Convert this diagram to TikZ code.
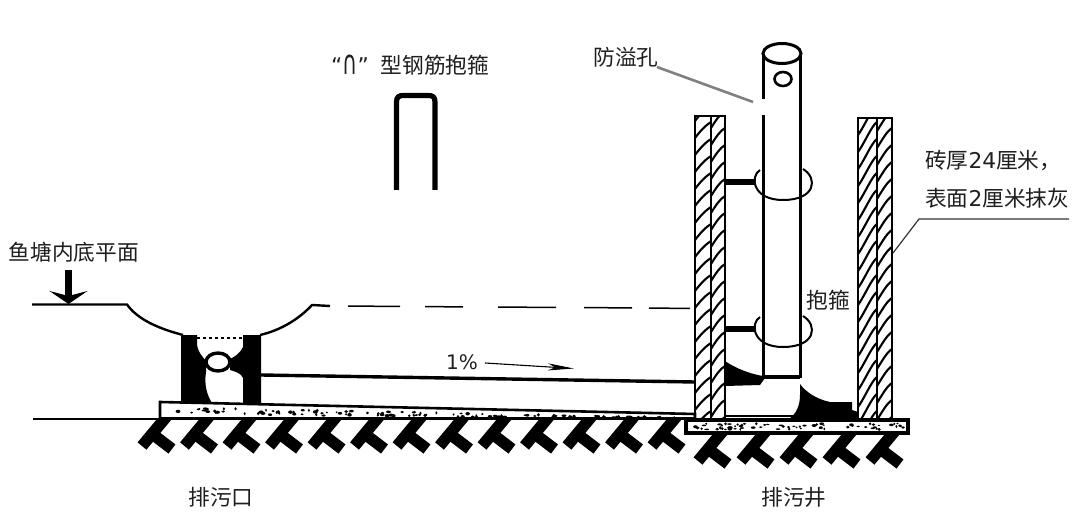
\documentclass[tikz,border=0pt]{standalone}
\usepackage{fontspec}
\usepackage{graphicx}
\setmainfont{Noto Sans CJK SC}
\newfontfamily\latinf{DejaVu Sans}
\usetikzlibrary{arrows.meta}
\tikzset{
  lbl/.style={inner sep=0pt,font=\fontsize{21.7}{24}\selectfont,text=black!88},
  heavy/.style={line width=3.4pt,black},
  thin leader/.style={line width=1.2pt,black!80},
  hatch/.style={line width=2.1pt,black},
  foot/.style={line width=11.5pt,black},
}
\newcommand{\footglyph}[2]{%
  \draw[foot] (#1-17,#2+14) -- (#1+8,#2-16);
  \draw[foot] (#1-8,#2+1) -- (#1+13,#2+17);
}
\begin{document}
\begin{tikzpicture}[x=1pt,y=-1pt]
\useasboundingbox (0,0) rectangle (1080,532);
\fill[white] (0,0) rectangle (1080,532);
% footing glyphs
\begin{scope}
  \clip (0,419) rectangle (1080,532);
  \foreach \c in {159,201.5,244,286.5,329,371.5,414,456.5,499,541.5,584,626.5,669}{\footglyph{\c}{432}}
  \foreach \c in {715,758,801,844,887}{\footglyph{\c}{447}}
\end{scope}
% ground and base slabs
\draw[line width=1.8pt] (33,419) -- (162,419);
\pgfmathsetseed{4242}
\draw[line width=2.6pt,fill=white] (160,418.5) -- (160,402) -- (695,414) -- (695,418.5) -- cycle;
\draw[line width=3.4pt,fill=white] (686,420) rectangle (908,433);
\foreach \i in {1,...,130}{
  \pgfmathsetmacro{\px}{175+500*rnd}
  \pgfmathsetmacro{\py}{407.5+(\px-175)*0.0195+7*rnd*(1-(\px-175)/620)}
  \pgfmathsetmacro{\pw}{0.9+0.9*rnd}
  \pgfmathsetmacro{\pl}{0.9+1.7*rnd}
  \fill (\px,\py) ellipse (\pl pt and \pw pt);
}
\foreach \i in {1,...,70}{
  \pgfmathsetmacro{\px}{692+212*rnd}
  \pgfmathsetmacro{\py}{423.5+6*rnd}
  \pgfmathsetmacro{\pw}{0.7+0.9*rnd}
  \pgfmathsetmacro{\pl}{0.9+1.6*rnd}
  \fill (\px,\py) ellipse (\pl pt and \pw pt);
}
% pond bed
\draw[line width=2.4pt] (32,304.5) -- (127,304.5) .. controls (138,320) and (160,329) .. (183,335);
\draw[line width=2.4pt] (260,335) .. controls (282,330) and (300,318) .. (312,305) -- (330,306);
\draw[line width=1.5pt] (348,306) -- (400,306.5) (425,306.5) -- (463,307) (498,307) -- (556,307.5) (584,307.5) -- (632,308) (649,308) -- (690,308.5);
% piers at the outlet
\fill (181,335) -- (197,335) -- (197,345) .. controls (198,352) and (202,356) .. (206,361) -- (206,372) .. controls (204,385) and (207,395) .. (212,403) -- (181,403) -- cycle;
\fill (261,335) -- (243,335) -- (243,347) .. controls (240,353) and (236,356) .. (230,359) -- (230,370) .. controls (236,372) and (241,373) .. (243,378) -- (243,403) -- (261,403) -- cycle;
\draw[line width=2.2pt,dash pattern=on 3pt off 3pt] (197,338) -- (243,338);
\draw[line width=3.4pt,fill=white] (218,362) ellipse (12 and 9);
% sloped pipe
\coordinate (pipeA) at (261,375);
\coordinate (pipeB) at (695,382);
\draw[heavy] (pipeA) -- (pipeB);
\node[lbl,font=\latinf\fontsize{20}{22}\selectfont,anchor=west] (slope) at (446,362) {1\%};
\coordinate (arrA) at (485,363);
\coordinate (arrB) at (574,368.5);
\draw[line width=1.1pt,-{Stealth[length=26pt,width=7pt,inset=7pt]}] (arrA) -- (arrB);
% well walls
\foreach \xa/\xb/\xc/\yt/\sl/\sr in {695/711/725/116/16/17,858/877/892/118/30/20}{
  \begin{scope}
    \clip (\xa,\yt) rectangle (\xc,419);
    \foreach \yy in {105,122,...,440}{
      \draw[hatch] (\xa,\yy+\sl) .. controls (\xa+6,\yy+\sl-8) and (\xb-5,\yy+3) .. (\xb,\yy);
      \draw[hatch] (\xb,\yy+\sr+6) .. controls (\xb+5,\yy+\sr-2) and (\xc-5,\yy+9) .. (\xc,\yy+6);
    }
  \end{scope}
  \draw[line width=2.6pt] (\xa,419) -- (\xa,\yt) -- (\xc,\yt) -- (\xc,419);
  \draw[line width=1.8pt] (\xb,\yt) -- (\xb,419);
}
% sludge
\fill (725,361) .. controls (735,368) and (750,374) .. (763,376) -- (765,378) -- (760,385) -- (725,386) -- cycle;
\fill (800,384) .. controls (806,392) and (816,399) .. (830,402) -- (852,402) -- (852,410) -- (858,412) -- (858,419) -- (789,419) .. controls (796,414) and (800,406) .. (800,395) -- cycle;
\draw[line width=1.5pt] (726,416) -- (795,416);
\draw[line width=1pt,dash pattern=on 2pt off 1pt] (728,418) -- (790,418);
% standpipe
\draw[line width=3pt,fill=white] (782,53.5) ellipse (19 and 10);
\draw[line width=3pt] (763,55) -- (763,99) (763,115) -- (763,377);
\draw[line width=3pt] (800,55) -- (800,378);
\draw[line width=3.4pt] (763,377) -- (800,377);
\draw[line width=2.6pt] (783,79) ellipse (8.5 and 7);
% clamps
\foreach \cy/\ty in {182/170,329/317}{
  \draw[line width=5.5pt] (725,\cy) -- (754,\cy);
  \draw[line width=2pt] (760,\ty) .. controls (750,\cy-6) and (752,\cy+18) .. (783,\cy+18) .. controls (816,\cy+18) and (818,\cy-4) .. (803,\ty-1);
}
% loose clamp
\draw[line width=5.2pt,line cap=butt] (396.5,190) -- (396.5,102) .. controls (396.5,97) and (399,95.5) .. (403,95.5) -- (428,95.5) .. controls (433,95.5) and (435,97) .. (435,102) -- (435,190);
% labels
\node[lbl,anchor=west] (clampname) at (331,65) {{\latinf “\raisebox{-0.5pt}{\scalebox{0.95}[1.55]{∩}}”}\hspace{12pt}型钢筋抱箍};
\node[lbl] (overflow) at (626,57) {防溢孔};
\coordinate (holeA) at (657,67);
\coordinate (holeB) at (753,102);
\draw[line width=2.6pt,black!50] (holeA) -- (holeB);
\node[lbl,anchor=west] (brickA) at (925,161) {砖厚{\latinf 24}厘米，};
\node[lbl,anchor=west] (brickB) at (925,198) {表面{\latinf 2}厘米抹灰};
\coordinate (ldA) at (1069,219);
\coordinate (ldB) at (919,219);
\coordinate (ldC) at (893,253);
\draw[thin leader] (ldA) -- (ldB) -- (ldC);
\node[lbl] (hoop) at (828,300) {抱箍};
\node[lbl] (bed) at (74,252) {鱼塘内底平面};
\coordinate (dnA) at (68.5,270);
\coordinate (dnB) at (68.5,304);
\draw[line width=6.5pt,-{Stealth[length=13pt,width=38pt,inset=5pt]}] (dnA) -- (dnB);
\node[lbl] (outlet) at (221,497) {排污口};
\node[lbl] (well) at (794,497) {排污井};
\end{tikzpicture}
\end{document}
